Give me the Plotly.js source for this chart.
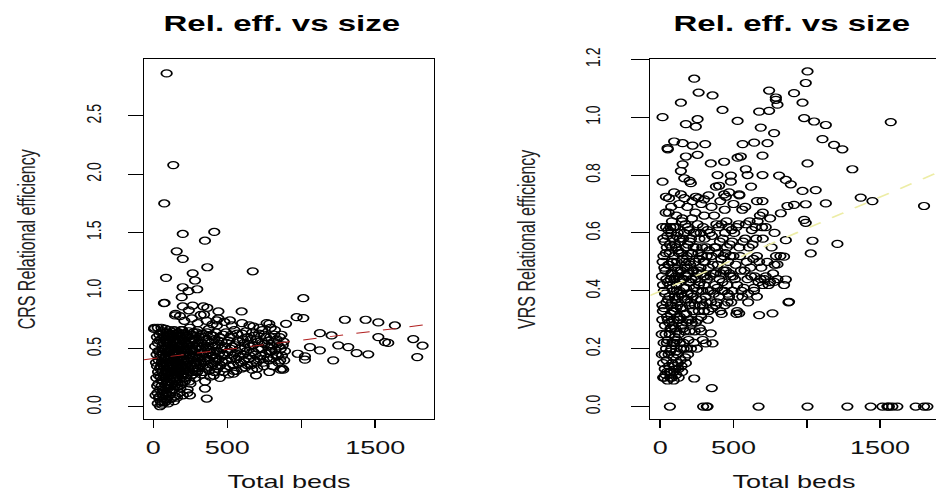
<!DOCTYPE html>
<html>
<head>
<meta charset="utf-8">
<script src="https://cdn.plot.ly/plotly-3.0.1.min.js"></script>
<style>
html,body{margin:0;padding:0;background:#fff;overflow:hidden;width:936px;height:492px;}
#plot{width:628px;height:492px;transform:scaleX(1.5);transform-origin:0 0;}
</style>
</head>
<body>
<div id="plot"></div>
<script>
// ---------- data (Total beds, relational efficiency) ----------
const crsCore = [
[15,0.10],[20,0.25],[22,0.45],[25,0.35],[28,0.12],[30,0.55],[30,0.68],[32,0.30],[35,0.20],[36,0.40],[38,0.08],[40,0.62],[42,0.48],[44,0.15],[45,0.33],[48,0.05],[50,0.58],[50,0.26],[52,0.42],[55,0.18],[55,0.68],[57,0.38],[58,0.02],[60,0.50],[60,0.11],
[62,0.30],[64,0.65],[65,0.22],[67,0.45],[68,0.09],[70,0.55],[70,0.35],[72,0.14],[74,0.60],[75,0.28],[77,0.42],[78,0.04],[80,0.50],[80,0.19],[82,0.67],[84,0.37],[85,0.25],[87,0.56],[88,0.12],[90,0.47],[90,0.32],[92,0.07],[94,0.62],[95,0.40],[97,0.21],[98,0.53],[100,0.29],[100,0.16],[102,0.44],[104,0.58],[105,0.35],[107,0.10],[108,0.66],[110,0.48],[110,0.24],[112,0.39],[114,0.18],[115,0.55],[117,0.31],[118,0.62],[120,0.43],[120,0.13],
[122,0.27],[124,0.51],[126,0.36],[128,0.60],[130,0.20],[131,0.46],[133,0.33],[135,0.57],[137,0.15],[138,0.41],[140,0.66],[142,0.25],[144,0.50],[145,0.38],[147,0.09],[149,0.55],[150,0.30],[152,0.44],[154,0.61],[155,0.22],[157,0.48],[159,0.35],[160,0.17],[162,0.58],[164,0.40],[166,0.27],[168,0.52],[170,0.64],[171,0.33],[173,0.45],[175,0.12],[177,0.56],[178,0.38],[180,0.24],[182,0.49],[184,0.60],[186,0.31],[188,0.43],[190,0.19],[192,0.53],[194,0.36],[196,0.66],[198,0.28],[200,0.46],
[203,0.40],[206,0.58],[208,0.32],[211,0.50],[213,0.22],[216,0.44],[218,0.62],[221,0.36],[224,0.54],[226,0.27],[229,0.47],[232,0.15],[234,0.60],[237,0.39],[240,0.52],[243,0.30],[246,0.68],[248,0.45],[251,0.20],[254,0.56],[256,0.35],[259,0.48],[262,0.62],[265,0.28],[268,0.42],[270,0.53],[273,0.34],[276,0.58],[279,0.46],[282,0.25],[285,0.50],[288,0.38],[291,0.64],[294,0.44],[297,0.30],[300,0.55],
[305,0.42],[310,0.60],[315,0.35],[320,0.50],[325,0.28],[330,0.47],[335,0.63],[340,0.38],[345,0.53],[350,0.22],[355,0.45],[360,0.58],[365,0.33],[370,0.49],[375,0.67],[380,0.40],[385,0.26],[390,0.55],[395,0.44],[400,0.36],[405,0.61],[410,0.48],[415,0.30],[420,0.53],[425,0.42],[430,0.70],[435,0.35],[440,0.57],[445,0.46],[450,0.25],
[458,0.50],[465,0.39],[472,0.62],[480,0.44],[488,0.33],[495,0.55],[502,0.47],[510,0.28],[518,0.60],[525,0.42],[532,0.52],[540,0.36],[548,0.66],[555,0.46],[562,0.31],[570,0.57],[578,0.43],[585,0.50],[592,0.38],[600,0.63],[608,0.45],[615,0.55],[622,0.34],[630,0.48],[638,0.60],[645,0.41],
[655,0.52],[662,0.36],[670,0.64],[678,0.47],[686,0.40],[694,0.58],[702,0.33],[710,0.50],[718,0.68],[726,0.44],[734,0.55],[742,0.38],[750,0.62],[758,0.46],[766,0.72],[774,0.52],[782,0.40],[790,0.60],[798,0.48],[806,0.35],[814,0.56],[822,0.66],[830,0.45],[838,0.54],[846,0.38],[854,0.60],[862,0.50],[870,0.44],[880,0.56],[890,0.48],
[30,0.03],[45,0.006],[60,0.04],[85,0.06],[100,0.03],[120,0.07],[140,0.05],[160,0.08],[200,0.10],[230,0.12],[5,0.67],[8,0.68],
[150,0.80],[180,0.78],[210,0.74],[240,0.83],[260,0.76],[300,0.72],[320,0.79],[360,0.74],[400,0.71],[440,0.76],[480,0.73],[530,0.70],[600,0.72],[650,0.70]
];
const crsCore2 = [
[12,0.52],[18,0.38],[24,0.60],[26,0.18],[33,0.48],[37,0.27],[41,0.57],[43,0.09],[47,0.44],[51,0.35],[53,0.64],[56,0.23],[59,0.46],[61,0.15],[63,0.53],[66,0.37],[69,0.61],[71,0.26],[73,0.49],[76,0.33],[79,0.58],[81,0.11],[83,0.43],[86,0.30],[89,0.64],[91,0.22],[93,0.51],[96,0.36],[99,0.60],[101,0.18],[103,0.47],[106,0.27],[109,0.55],[111,0.33],[113,0.63],[116,0.22],[119,0.50],[121,0.37],[123,0.59],[125,0.14],[127,0.45],[129,0.30],[132,0.62],[134,0.24],[136,0.52],[139,0.34],[141,0.58],[143,0.18],[146,0.46],[148,0.39],[151,0.65],[153,0.27],[156,0.53],[158,0.42],[161,0.31],[163,0.63],[165,0.20],[167,0.49],[169,0.37],[172,0.57],[174,0.29],[176,0.46],[179,0.61],[181,0.34],[183,0.16],[185,0.52],[187,0.40],[189,0.66],[191,0.27],[193,0.47],[195,0.58],[197,0.21],[199,0.38],[202,0.63],[205,0.29],[209,0.45],[212,0.56],[215,0.34],[219,0.49],[222,0.25],[225,0.61],[228,0.40],[231,0.52],[235,0.31],[238,0.65],[241,0.44],[244,0.22],[247,0.57],[250,0.37],[253,0.50],[257,0.27],[260,0.59],[263,0.43],[267,0.33],[271,0.64],[274,0.48],[278,0.38],[281,0.56],[284,0.30],[287,0.61],[290,0.45],[293,0.36],[296,0.52],[299,0.66],
[303,0.33],[308,0.52],[313,0.44],[318,0.62],[323,0.38],[328,0.55],[333,0.30],[338,0.46],[343,0.60],[348,0.42],[353,0.34],[358,0.51],[363,0.64],[368,0.40],[373,0.56],[378,0.31],[383,0.47],[388,0.62],[393,0.37],[398,0.52],[403,0.44],[408,0.27],[413,0.58],[418,0.39],[423,0.64],[428,0.48],[433,0.33],[438,0.53],[443,0.41],[448,0.60],[455,0.36],[462,0.56],[469,0.45],[476,0.30],[484,0.52],[491,0.64],[498,0.40],[506,0.57],[514,0.35],[522,0.50],[529,0.62],[537,0.44],[545,0.31],[552,0.53],[560,0.41],[567,0.63],[575,0.37],[582,0.56],[590,0.46],[597,0.33],[605,0.58],[612,0.40],[620,0.51],[627,0.65],[635,0.36],[642,0.54],[650,0.44],[660,0.58],[668,0.32],[675,0.53],[683,0.61],[690,0.45],[698,0.38],[706,0.56],[714,0.63],[722,0.41],[730,0.50],[738,0.66],[746,0.35],[754,0.54],[762,0.60],[770,0.42],[778,0.57],[786,0.48],[794,0.68],[802,0.52],[810,0.42],[818,0.62],[826,0.49],[834,0.58],[842,0.44],[850,0.52],[858,0.40],[866,0.62],[875,0.53],[885,0.40]
];
const crsOutliers = [
[90,2.865],[135,2.077],[74,1.748],[199,1.486],[412,1.503],[349,1.428],[158,1.337],[199,1.272],[365,1.20],[672,1.165],[266,1.148],[86,1.109],[282,1.086],[199,1.028],[297,1.011],[237,0.994],[192,0.943],[1014,0.934],[72,0.891],[76,0.893],[199,0.863],[266,0.871],[338,0.863],[365,0.852],[597,0.82],[440,0.82],[343,0.794],[147,0.786],[969,0.771],[1014,0.763],[1295,0.749],[1435,0.749],[1521,0.726],[1633,0.70],[897,0.714],[518,0.743],[428,0.743],[784,0.714],[676,0.691],[1126,0.634],[1205,0.614],[1521,0.60],[1757,0.583],[1566,0.557],[1588,0.55],[1820,0.526],[1250,0.529],[1318,0.514],[1126,0.486],[1059,0.514],[1374,0.463],[1453,0.452],[1216,0.40],[1784,0.428],[1025,0.434],[1025,0.406],[976,0.457],[878,0.32],[870,0.33],[860,0.32],[784,0.30],[694,0.272],[541,0.286],[361,0.072],[248,0.10],[349,0.158]
];
const vrsCore = [
[10,0.25],[12,0.45],[15,0.62],[18,0.33],[20,0.15],[22,0.52],[25,0.40],[27,0.10],[30,0.57],[32,0.28],[35,0.47],[37,0.67],[40,0.20],[42,0.36],[45,0.55],[47,0.12],[50,0.43],[52,0.30],[55,0.61],[57,0.18],[60,0.49],[58,0.67],
[62,0.38],[64,0.25],[66,0.56],[68,0.10],[70,0.44],[72,0.32],[74,0.60],[76,0.20],[78,0.50],[80,0.36],[82,0.15],[84,0.46],[86,0.28],[88,0.58],[90,0.40],[92,0.09],[94,0.52],[96,0.33],[98,0.22],[100,0.48],[102,0.62],[104,0.37],[106,0.13],[108,0.55],[110,0.42],[112,0.26],[114,0.50],[116,0.18],[118,0.35],[120,0.60],[122,0.45],[124,0.30],[126,0.10],[128,0.53],
[132,0.40],[135,0.22],[138,0.57],[140,0.34],[143,0.47],[146,0.14],[148,0.64],[151,0.38],[154,0.51],[157,0.27],[160,0.44],[162,0.60],[165,0.32],[168,0.48],[170,0.17],[173,0.55],[176,0.41],[179,0.29],[182,0.52],[185,0.37],[188,0.62],[190,0.46],[193,0.23],[196,0.50],[199,0.35],[202,0.57],[205,0.43],[208,0.30],[211,0.53],[214,0.39],[217,0.65],[220,0.47],
[224,0.33],[228,0.55],[232,0.41],[236,0.26],[240,0.50],[244,0.60],[248,0.37],[252,0.46],[256,0.30],[260,0.53],[264,0.42],[268,0.58],[272,0.35],[276,0.48],[280,0.26],[284,0.52],[288,0.40],[292,0.62],[296,0.45],[300,0.33],[305,0.50],[310,0.38],[315,0.55],[320,0.44],
[326,0.30],[332,0.48],[338,0.60],[344,0.40],[350,0.52],[356,0.34],[362,0.46],[368,0.66],[374,0.42],[380,0.55],[386,0.36],[392,0.49],[398,0.62],[404,0.44],[410,0.33],[416,0.51],[422,0.40],[428,0.58],[434,0.47],[440,0.35],[446,0.53],[452,0.64],[458,0.42],[464,0.50],[470,0.38],[476,0.56],[482,0.45],[488,0.61],[494,0.40],[500,0.52],
[510,0.44],[520,0.62],[530,0.38],[540,0.55],[550,0.47],[560,0.68],[570,0.41],[580,0.58],[590,0.50],[600,0.36],[610,0.64],[620,0.45],[630,0.56],[640,0.40],[650,0.62],[660,0.52],[670,0.43],[680,0.66],[690,0.48],[700,0.58],[710,0.44],[720,0.62],[730,0.50],[740,0.42],[750,0.65],[760,0.55],[770,0.46],[780,0.60],[790,0.52],[800,0.44],
[60,0.72],[75,0.69],[95,0.74],[110,0.66],[130,0.70],[150,0.65],[165,0.72],[185,0.69],[200,0.78],[220,0.71],[240,0.67],[260,0.72],[280,0.70],[300,0.66],[330,0.73],[350,0.69],[380,0.76],[410,0.71],[440,0.68],[470,0.74],[500,0.70],[540,0.73],[580,0.69],[620,0.76],[660,0.71],[700,0.67],[40,0.62],[80,0.64],
[20,0.10],[35,0.11],[50,0.09],[65,0.12],[80,0.10],[95,0.12],[110,0.11],[125,0.13],[140,0.16],[150,0.12],[160,0.20],[175,0.15],[190,0.18],[210,0.20],[230,0.22],[250,0.20],[270,0.27],[290,0.23],[30,0.18],[45,0.22],[70,0.27],[100,0.24],[130,0.30],[15,0.35],
[280,0.31],[330,0.33],[380,0.35],[420,0.32],[460,0.36],[520,0.32],[525,0.33],[560,0.38],[600,0.39],[640,0.41],[660,0.38],[700,0.42],[720,0.45],[750,0.43],[780,0.49],[820,0.52]
];
const vrsCore2 = [
[11,0.18],[14,0.30],[16,0.50],[19,0.42],[21,0.58],[23,0.22],[26,0.34],[28,0.48],[31,0.13],[33,0.39],[36,0.25],[38,0.53],[41,0.44],[43,0.16],[46,0.31],[48,0.59],[51,0.23],[53,0.37],[56,0.49],[59,0.14],[61,0.29],[63,0.53],[65,0.42],[67,0.19],[69,0.62],[71,0.35],[73,0.12],[75,0.46],[77,0.27],[79,0.55],[81,0.41],[83,0.22],[85,0.33],[87,0.50],[89,0.17],[91,0.62],[93,0.30],[95,0.44],[97,0.14],[99,0.38],[101,0.56],[103,0.27],[105,0.45],[107,0.19],[109,0.34],[111,0.59],[113,0.40],[115,0.23],[117,0.47],[119,0.31],[121,0.15],[123,0.54],[125,0.38],[127,0.25],[129,0.44],[131,0.58],[134,0.31],[137,0.47],[139,0.20],[142,0.39],[145,0.53],[147,0.28],[150,0.44],[153,0.34],[156,0.58],[159,0.22],[161,0.41],[164,0.50],[167,0.26],[169,0.37],[172,0.63],[175,0.45],[178,0.32],[181,0.20],[184,0.48],[187,0.39],[189,0.56],[192,0.30],[195,0.43],[198,0.61],[201,0.26],[204,0.49],[207,0.36],[210,0.58],[213,0.44],[216,0.29],[219,0.53],[223,0.38],[227,0.47],[231,0.60],[235,0.35],[239,0.44],[243,0.29],[247,0.55],[251,0.40],[255,0.63],[259,0.47],[263,0.33],[267,0.51],[271,0.43],[275,0.60],[279,0.37],[283,0.46],[287,0.55],[291,0.35],[295,0.50],[299,0.42],
[303,0.58],[308,0.45],[313,0.36],[318,0.52],[323,0.61],[328,0.40],[335,0.54],[341,0.45],[347,0.36],[353,0.59],[359,0.49],[365,0.39],[371,0.55],[377,0.46],[383,0.63],[389,0.41],[395,0.53],[401,0.38],[407,0.57],[413,0.46],[419,0.63],[425,0.43],[431,0.52],[437,0.40],[443,0.60],[449,0.47],[455,0.55],[461,0.39],[467,0.62],[473,0.46],[479,0.52],[485,0.36],[491,0.57],[497,0.45],[505,0.60],[515,0.49],[525,0.42],[535,0.63],[545,0.52],[555,0.40],[565,0.57],[575,0.47],[585,0.63],[595,0.44],[605,0.55],[615,0.48],[625,0.61],[635,0.51],[645,0.45],[655,0.58],[665,0.64],[675,0.50],[685,0.44],[695,0.62]
];
const vrsOutliers = [
[1005,1.158],[993,1.118],[232,1.133],[262,1.085],[357,1.075],[743,1.092],[789,1.068],[789,1.06],[800,1.043],[913,1.083],[971,1.05],[141,1.05],[425,1.025],[675,1.019],[743,1.022],[16,1.0],[255,0.993],[528,0.987],[175,0.976],[243,0.967],[982,0.997],[1050,0.985],[1130,0.973],[1573,0.983],[686,0.964],[777,0.945],[1107,0.924],[1186,0.904],[1243,0.889],[95,0.916],[153,0.91],[50,0.893],[52,0.889],[221,0.902],[307,0.907],[562,0.907],[641,0.912],[732,0.91],[175,0.864],[255,0.87],[698,0.867],[528,0.86],[550,0.864],[153,0.837],[345,0.84],[436,0.846],[1005,0.84],[1311,0.82],[141,0.814],[584,0.82],[391,0.80],[482,0.798],[596,0.80],[698,0.80],[811,0.798],[857,0.783],[891,0.768],[16,0.777],[164,0.789],[209,0.772],[482,0.777],[402,0.763],[971,0.745],[1061,0.748],[141,0.733],[39,0.725],[243,0.725],[300,0.716],[436,0.733],[448,0.725],[539,0.733],[698,0.71],[1368,0.722],[1448,0.71],[1800,0.693],[1130,0.702],[993,0.699],[913,0.697],[868,0.693],[823,0.668],[982,0.645],[993,0.635],[1039,0.573],[1209,0.562],[1027,0.529],[857,0.575],[845,0.518],[800,0.491],[857,0.439],[845,0.42],[777,0.431],[879,0.362],[875,0.36],[766,0.322],[675,0.316],[539,0.322],[345,0.253],[232,0.097],[352,0.064],[311,0.218],[357,0.218]
];
const vrsZeroBeds = [66,293,318,323,671,1005,1277,1436,1516,1550,1560,1584,1618,1743,1800,1823];
const vrsZeroEff  = [0,0,0,0,0,0,0,0,0,0,0,0,0,0,0,0];

const crsFitBeds = [-63, 1897];
const crsFitEff  = [0.406, 0.715];
const vrsFitBeds = [-68, 1894];
const vrsFitEff  = [0.384, 0.809];

const xTickVals = [0, 500, 1000, 1500];
const xTickText = ['0', '500', '', '1500'];
const crsTickVals = [0, 0.5, 1.0, 1.5, 2.0, 2.5];
const crsTickText = ['0.0', '0.5', '1.0', '1.5', '2.0', '2.5'];
const vrsTickVals = [0, 0.2, 0.4, 0.6, 0.8, 1.0, 1.2];
const vrsTickText = ['0.0', '0.2', '0.4', '0.6', '0.8', '1.0', '1.2'];

const panelTitle = 'Rel. eff. vs size';
const xLabel = 'Total beds';
const crsLabel = 'CRS Relational efficiency';
const vrsLabel = 'VRS Relational efficiency';

// ---------- build ----------
const crsAll = crsCore.concat(crsCore2, crsOutliers);
const vrsAll = vrsCore.concat(vrsCore2, vrsOutliers);
const marker = {symbol: 'circle-open', size: 7, color: '#000', line: {width: 1.2, color: '#000'}};

const traces = [
  {type: 'scatter', mode: 'markers', x: crsAll.map(p => p[0]), y: crsAll.map(p => p[1]),
   marker: marker, xaxis: 'x', yaxis: 'y', hoverinfo: 'skip'},
  {type: 'scatter', mode: 'lines', x: crsFitBeds, y: crsFitEff,
   line: {color: '#B22222', width: 1, dash: 'dash'}, xaxis: 'x', yaxis: 'y'},
  {type: 'scatter', mode: 'markers', x: vrsAll.map(p => p[0]).concat(vrsZeroBeds), y: vrsAll.map(p => p[1]).concat(vrsZeroEff),
   marker: marker, xaxis: 'x2', yaxis: 'y2', hoverinfo: 'skip'},
  {type: 'scatter', mode: 'lines', x: vrsFitBeds, y: vrsFitEff,
   line: {color: '#EDEDA6', width: 1.5, dash: 'dash'}, xaxis: 'x2', yaxis: 'y2'}
];

const FONT = 'Liberation Sans, Arial, sans-serif';
const yDom = [0.1478, 0.8795];
function xAx(dom, range, anchor) {
  return {domain: dom, range: range, anchor: anchor, showgrid: false, zeroline: false,
    showline: true, mirror: true, linecolor: '#000', linewidth: 1,
    ticks: 'outside', ticklen: 8, tickwidth: 1, tickcolor: '#000',
    tickvals: xTickVals, ticktext: xTickText, ticklabelstandoff: 4,
    tickfont: {family: FONT, size: 18, color: '#111'},
    title: {text: xLabel, font: {family: FONT, size: 18, color: '#111'}, standoff: 32},
    automargin: false, fixedrange: true};
}
function yAx(range, anchor, vals, text, label, len, stand, tstand) {
  return {domain: yDom, range: range, anchor: anchor, showgrid: false, zeroline: false,
    showline: true, mirror: true, linecolor: '#000', linewidth: 1,
    ticks: 'outside', ticklen: len, tickwidth: 1, tickcolor: '#000',
    tickvals: vals, ticktext: text, tickangle: -90, ticklabelstandoff: stand,
    tickfont: {family: FONT, size: 14, color: '#111'},
    title: {text: label, font: {family: FONT, size: 16, color: '#222'}, standoff: tstand},
    automargin: false, fixedrange: true};
}

const layout = {
  width: 628, height: 492,
  margin: {l: 0, r: 0, t: 0, b: 0},
  paper_bgcolor: '#fff', plot_bgcolor: '#fff',
  showlegend: false,
  xaxis: xAx([96/628, 289.3/628], [-63, 1897], 'y'),
  yaxis: yAx([-0.106, 2.986], 'x', crsTickVals, crsTickText, crsLabel, 10, 12, 26),
  xaxis2: xAx([433.5/628, 625.2/628], [-68, 1894], 'y2'),
  yaxis2: yAx([-0.044, 1.2], 'x2', vrsTickVals, vrsTickText, vrsLabel, 12, 15, 25),
  annotations: [
    {text: '<b>' + panelTitle + '</b>', xref: 'paper', yref: 'paper', x: 188/628, y: 1 - 23/492,
     xanchor: 'center', yanchor: 'middle', showarrow: false, font: {family: FONT, size: 22, color: '#000'}},
    {text: '<b>' + panelTitle + '</b>', xref: 'paper', yref: 'paper', x: 528/628, y: 1 - 23/492,
     xanchor: 'center', yanchor: 'middle', showarrow: false, font: {family: FONT, size: 22, color: '#000'}}
  ]
};

Plotly.newPlot('plot', traces, layout, {staticPlot: true, displayModeBar: false});
</script>
</body>
</html>
